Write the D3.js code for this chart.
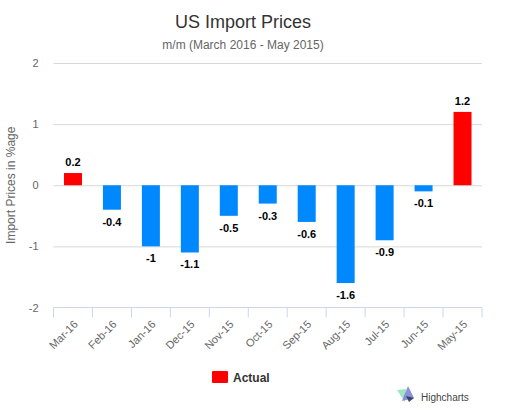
<!DOCTYPE html>
<html>
<head>
<meta charset="utf-8">
<script src="https://cdn.jsdelivr.net/npm/d3@7"></script>
<style>
  body { margin: 0; background: #fff; }
  svg { font-family: Arial, "Liberation Sans", sans-serif; }
</style>
</head>
<body>
<svg id="chart" width="506" height="415"></svg>
<script>
const months = ["Mar-16","Feb-16","Jan-16","Dec-15","Nov-15","Oct-15","Sep-15","Aug-15","Jul-15","Jun-15","May-15"];
const actual = [0.2,-0.4,-1,-1.1,-0.5,-0.3,-0.6,-1.6,-0.9,-0.1,1.2];
const yTicks = [-2,-1,0,1,2];

const width = 506, height = 415;
const margin = {left: 53.5, right: 24, top: 63, bottom: 107.5};

const svg = d3.select("#chart");

let x = d3.scaleBand(months, [margin.left, width - margin.right]).paddingInner(0).paddingOuter(0);
let y = d3.scaleLinear([-2, 2], [height - margin.bottom, margin.top]);

// title
svg.append("text").attr("x", 243).attr("y", 28).attr("text-anchor", "middle")
  .style("font-size", "18px").style("fill", "#333").text("US Import Prices");
svg.append("text").attr("x", 243).attr("y", 49).attr("text-anchor", "middle")
  .style("font-size", "12px").style("fill", "#666").text("m/m (March 2016 - May 2015)");

// grid
let yAxis = d3.axisLeft(y).tickValues(yTicks).tickSize(-(width - margin.left - margin.right)).tickFormat(d => String(d));
let gy = svg.append("g").attr("transform", `translate(${margin.left},0)`).call(yAxis);
gy.select(".domain").remove();
gy.selectAll(".tick line").attr("stroke", "#d8d8d8");
gy.selectAll(".tick text").attr("x", -15).attr("dy", "0.32em")
  .style("font-size", "11px").style("fill", "#666").style("font-family", "Arial, 'Liberation Sans', sans-serif");
gy.selectAll(".tick").filter(d => d === -2).select("line").remove();

svg.append("text")
  .attr("transform", `translate(15,${(margin.top + height - margin.bottom) / 2}) rotate(-90)`)
  .attr("text-anchor", "middle").style("font-size", "12px").style("fill", "#666")
  .text("Import Prices in %age");

// x axis
let xAxis = d3.axisBottom(x).tickSizeOuter(0).tickSize(10);
let gx = svg.append("g").attr("transform", `translate(0,${y(-2)})`).call(xAxis);
gx.select(".domain").attr("stroke", "#ccd6eb").attr("d", `M${margin.left},0H${width - margin.right}`);
gx.selectAll(".tick line").remove();
let edges = months.map(m => x(m)).concat([width - margin.right]);
gx.selectAll(".edge").data(edges).join("line").attr("class", "edge")
  .attr("x1", d => d).attr("x2", d => d).attr("y1", 0).attr("y2", 10)
  .attr("stroke", "#ccd6eb");
gx.selectAll(".tick text")
  .attr("transform", "translate(3,15) rotate(-45)")
  .attr("text-anchor", "end").attr("dy", "0.32em").attr("y", 0)
  .style("font-size", "11px").style("fill", "#666").style("font-family", "Arial, 'Liberation Sans', sans-serif");

// bars
let bw = 18;
svg.selectAll(".bar").data(actual).join("rect").attr("class", "bar")
  .attr("x", (d, i) => x(months[i]) + x.bandwidth() / 2 - bw / 2)
  .attr("width", bw)
  .attr("y", d => y(Math.max(0, d)))
  .attr("height", d => Math.abs(y(d) - y(0)))
  .attr("fill", d => d >= 0 ? "#ff0000" : "#0088ff");

// data labels
svg.selectAll(".lbl").data(actual).join("text").attr("class", "lbl")
  .attr("x", (d, i) => x(months[i]) + x.bandwidth() / 2)
  .attr("y", d => d >= 0 ? y(d) - 7 : y(d) + 16)
  .attr("text-anchor", "middle")
  .style("font-size", "11px").style("font-weight", "bold").style("fill", "#000")
  .style("stroke", "#fff").style("stroke-width", "2px").style("paint-order", "stroke")
  .text(d => d);

// legend
svg.append("rect").attr("x", 212).attr("y", 371).attr("width", 16).attr("height", 12).attr("rx", 1).attr("fill", "#ff0000");
svg.append("text").attr("x", 233).attr("y", 382).style("font-size", "12px").style("font-weight", "bold")
  .style("fill", "#333").text("Actual");

// credits
let logo = svg.append("g").attr("transform", "translate(397,386)");
logo.append("path").attr("d", "M0,4 L9,3 L8,16 Z").attr("fill", "#8fe0b4").attr("opacity", 0.85);
logo.append("path").attr("d", "M5,15 L11,0 L17,12 Z").attr("fill", "#7a7cd6").attr("opacity", 0.85);
logo.append("path").attr("d", "M9,10 L17,12 L12,16 Z").attr("fill", "#2b3a55").attr("opacity", 0.9);
svg.append("text").attr("x", 421).attr("y", 401).style("font-size", "10px").style("fill", "#444").text("Highcharts");
</script>
</body>
</html>
